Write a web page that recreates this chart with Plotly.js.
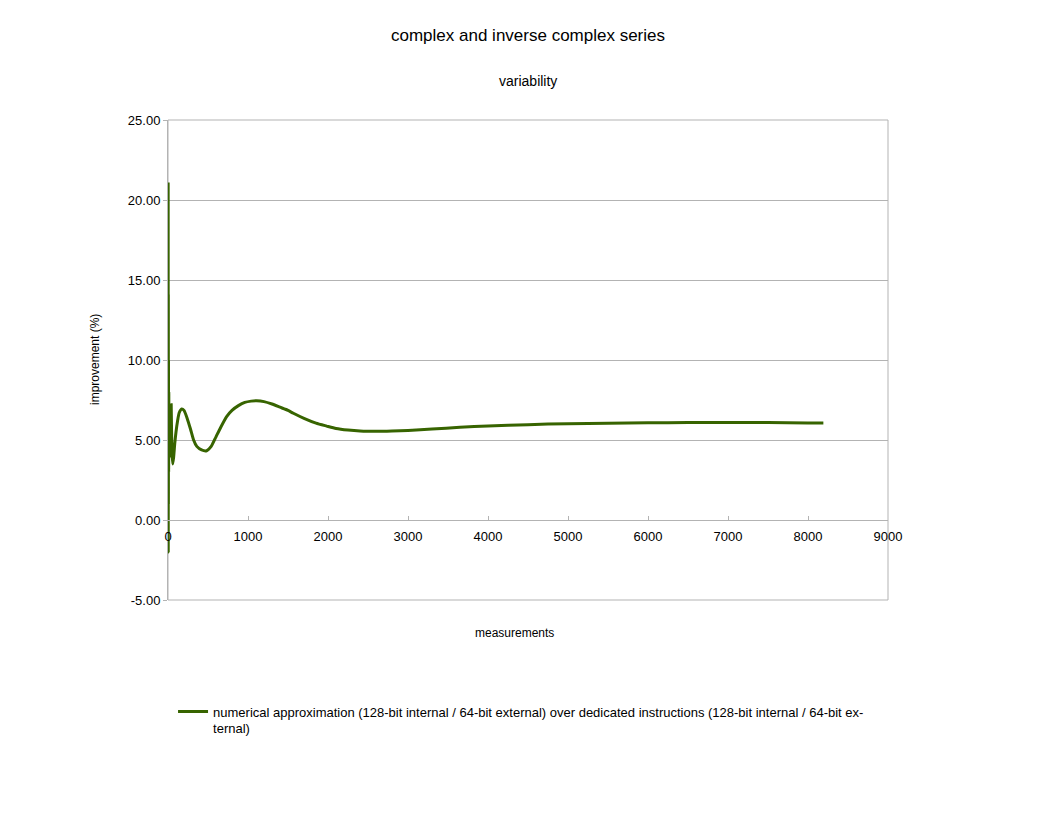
<!DOCTYPE html>
<html>
<head>
<meta charset="utf-8">
<script src="https://cdn.plot.ly/plotly-3.0.1.min.js"></script>
<style>html,body{margin:0;padding:0;background:#fff;}#chart{width:1056px;height:816px;}</style>
</head>
<body>
<div id="chart"></div>
<script>
const measurements = [1,2,3,4,5,6,8,10,12,16,20,24,32,40,48,58,70,85,100,120,140,171,200,240,280,320,360,420,483,540,600,660,733,800,880,960,1040,1108,1200,1300,1400,1500,1567,1700,1850,1983,2100,2250,2400,2608,2800,3000,3300,3650,4000,4500,5000,5500,6000,6500,7000,7500,8000,8192];
const improvement = [0,21,-2,14,1,10,3,8,4,7.2,4.6,7.1,4.0,7.2,4.4,3.5,3.9,4.8,5.5,6.2,6.7,6.94,6.85,6.35,5.7,5.0,4.6,4.38,4.33,4.6,5.2,5.8,6.46,6.85,7.15,7.35,7.43,7.45,7.4,7.25,7.05,6.85,6.67,6.35,6.05,5.87,5.72,5.62,5.56,5.54,5.56,5.6,5.68,5.8,5.87,5.96,6.02,6.05,6.08,6.09,6.1,6.09,6.07,6.07];
const xTicks = [0,1000,2000,3000,4000,5000,6000,7000,8000,9000];
const yTicks = [-5,0,5,10,15,20,25];
const yTickLabels = yTicks.map(v => v.toFixed(2));
const seriesName = "numerical approximation (128-bit internal / 64-bit external) over dedicated instructions (128-bit internal / 64-bit ex-<br>ternal)";

const gray = '#b3b3b3';
const font = {family: 'Liberation Sans, Arial, sans-serif', size: 13, color: '#000'};

const trace = {
  x: measurements, y: improvement, type: 'scatter', mode: 'lines',
  name: seriesName,
  line: {color: '#376400', width: 3, shape: 'spline', smoothing: 0.6}
};

const layout = {
  width: 1056, height: 816,
  margin: {l: 168, r: 168, t: 120, b: 216},
  paper_bgcolor: '#fff', plot_bgcolor: '#fff',
  font: font,
  showlegend: true,
  legend: {x: 0.007, xanchor: 'left', y: -0.201, yanchor: 'top', valign: 'top', font: {family: font.family, size: 13, color: '#000'}, bgcolor: 'rgba(0,0,0,0)'},
  xaxis: {
    range: [0, 9000], tickvals: xTicks, ticktext: xTicks.map(String),
    anchor: 'free', position: 1/6,
    showgrid: false, zeroline: false,
    showline: true, linecolor: gray, linewidth: 1,
    ticks: 'inside', ticklen: 4, tickcolor: gray,
    ticklabelstandoff: 4,
    tickfont: font
  },
  yaxis: {
    range: [-5, 25], tickvals: yTicks, ticktext: yTickLabels,
    showgrid: true, gridcolor: gray, gridwidth: 1, zeroline: false,
    showline: true, linecolor: gray, linewidth: 1,
    ticks: 'outside', ticklen: 4, tickcolor: gray,
    tickfont: font
  },
  shapes: [
    {type: 'rect', xref: 'paper', yref: 'paper', x0: 0, x1: 1, y0: 0, y1: 1, line: {color: gray, width: 1}, layer: 'below'}
  ],
  annotations: [
    {text: 'complex and inverse complex series', xref: 'paper', yref: 'paper', x: 0.5, y: (600-36)/480, xanchor: 'center', yanchor: 'middle', showarrow: false, font: {family: font.family, size: 17, color: '#000'}},
    {text: 'variability', xref: 'paper', yref: 'paper', x: 0.5, y: (600-81)/480, xanchor: 'center', yanchor: 'middle', showarrow: false, font: {family: font.family, size: 14, color: '#000'}},
    {text: 'measurements', xref: 'paper', yref: 'paper', x: (514-168)/720, y: (600-633)/480, xanchor: 'center', yanchor: 'middle', showarrow: false, font: {family: font.family, size: 12, color: '#000'}},
    {text: 'improvement (%)', xref: 'paper', yref: 'paper', x: (95-168)/720, y: (600-360)/480, xanchor: 'center', yanchor: 'middle', textangle: -90, showarrow: false, font: {family: font.family, size: 12, color: '#000'}}
  ]
};

Plotly.newPlot('chart', [trace], layout, {displayModeBar: false, staticPlot: true});
</script>
</body>
</html>
